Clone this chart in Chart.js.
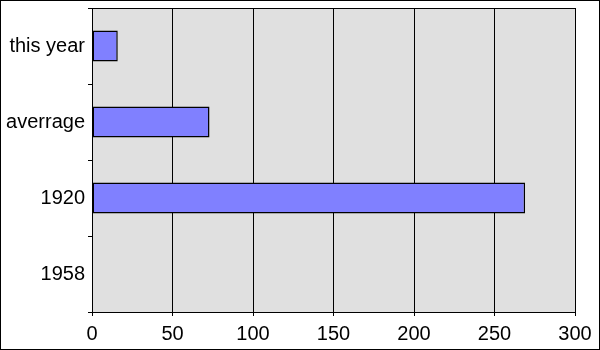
<!DOCTYPE html>
<html>
<head>
<meta charset="utf-8">
<script src="https://cdn.jsdelivr.net/npm/chart.js@4"></script>
<style>
  html, body { margin: 0; padding: 0; background: #fff; }
  #wrap { width: 600px; height: 350px; }
</style>
</head>
<body>
<div id="wrap"><canvas id="chart" width="600" height="350"></canvas></div>
<script>
// dane wykresu
const categories = ["this year", "averrage", "1920", "1958"];
const values = [16, 73, 269, 0];
const xTicks = [0, 50, 100, 150, 200, 250, 300];

// tlo obszaru wykresu + ramki
const framePlugin = {
    id: "frame",
    beforeDraw(chart) {
        const ctx = chart.ctx;
        const a = chart.chartArea;
        ctx.save();
        ctx.fillStyle = "#ffffff";
        ctx.fillRect(0, 0, chart.width, chart.height);
        ctx.fillStyle = "#e0e0e0";
        ctx.fillRect(a.left, a.top, a.right - a.left, a.bottom - a.top);
        ctx.restore();
    },
    afterDraw(chart) {
        const ctx = chart.ctx;
        const a = chart.chartArea;
        ctx.save();
        ctx.strokeStyle = "#000";
        ctx.lineWidth = 1;
        ctx.beginPath();
        ctx.moveTo(a.left - 4, a.top + 0.5);
        ctx.lineTo(a.right, a.top + 0.5);
        ctx.stroke();
        ctx.strokeRect(0.5, 0.5, chart.width - 1, chart.height - 1);
        ctx.restore();
    }
};

new Chart(document.getElementById("chart"), {
    type: "bar",
    data: {
        labels: categories,
        datasets: [{
            data: values,
            backgroundColor: "#8080ff",
            borderColor: "#000",
            borderWidth: 1.5,
            borderSkipped: false,
            barPercentage: 0.41,
            categoryPercentage: 1.0
        }]
    },
    options: {
        indexAxis: "y",
        responsive: false,
        animation: false,
        layout: { padding: { left: 0, top: 8, right: 25, bottom: 0 } },
        plugins: {
            legend: { display: false },
            tooltip: { enabled: false }
        },
        scales: {
            x: {
                min: 0,
                max: 300,
                afterBuildTicks: axis => { axis.ticks = xTicks.map(v => ({ value: v })); },
                afterFit: axis => { axis.height = 38; },
                grid: {
                    color: "#000",
                    lineWidth: 1,
                    tickLength: 4,
                    drawOnChartArea: true
                },
                border: { color: "#000", width: 1 },
                ticks: {
                    color: "#000",
                    padding: 6,
                    font: { family: "Liberation Sans, Arial", size: 20 }
                }
            },
            y: {
                afterFit: axis => {
                    axis.width = 92;
                    axis.paddingTop = 0;
                    axis.paddingBottom = 0;
                },
                grid: {
                    offset: true,
                    color: "#000",
                    tickLength: 4,
                    drawOnChartArea: false
                },
                border: { color: "#000", width: 1 },
                ticks: {
                    color: "#000",
                    padding: 3,
                    font: { family: "Liberation Sans, Arial", size: 20 }
                }
            }
        }
    },
    plugins: [framePlugin]
});
</script>
</body>
</html>
